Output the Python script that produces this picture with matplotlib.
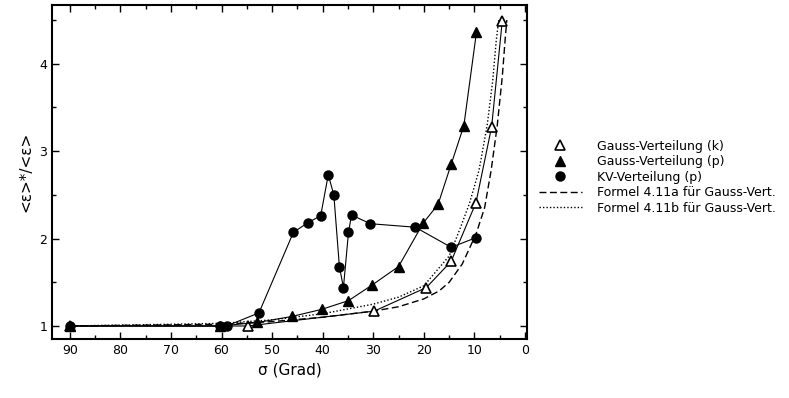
import matplotlib
matplotlib.use("Agg")
import matplotlib.pyplot as plt
from matplotlib.lines import Line2D
from matplotlib.ticker import MultipleLocator

# Gauss-Verteilung (k), offene Dreiecke
sig_gk = [90, 54.8, 29.8, 19.5, 14.6, 9.7, 6.6, 4.5]
eps_gk = [1.0, 1.0, 1.17, 1.44, 1.74, 2.41, 3.28, 4.49]

# Gauss-Verteilung (p), gefuellte Dreiecke
sig_gp = [90, 60.4, 52.9, 46.0, 40.2, 34.9, 30.2, 25.0, 20.1, 17.2, 14.6, 12.1, 9.6]
eps_gp = [1.0, 1.0, 1.04, 1.11, 1.19, 1.29, 1.47, 1.68, 2.18, 2.39, 2.85, 3.29, 4.36]

# KV-Verteilung (p), Kreise
sig_kv = [90, 60.4, 59.0, 52.6, 45.8, 43.0, 40.4, 38.9, 37.8, 36.7, 35.9,
          34.9, 34.3, 30.6, 21.7, 14.6, 9.7]
eps_kv = [1.0, 1.0, 1.0, 1.15, 2.07, 2.18, 2.26, 2.73, 2.50, 1.68, 1.44,
          2.07, 2.27, 2.17, 2.13, 1.90, 2.01]

# Formel 4.11a (gestrichelt)
sig_fa = [90, 60, 50, 40, 30, 25, 20, 17, 15, 12.4, 9.7, 8, 6.7, 5.5, 4.5, 3.9, 3.6]
eps_fa = [1.0, 1.02, 1.05, 1.10, 1.17, 1.22, 1.31, 1.40, 1.50, 1.71, 2.05,
          2.35, 2.78, 3.29, 3.85, 4.3, 4.5]

# Formel 4.11b (gepunktet)
sig_fb = [90, 60, 50, 40, 30, 25, 20, 15, 13, 11, 9.1, 7.5, 6.4, 5.7, 5.2]
eps_fb = [1.0, 1.03, 1.07, 1.14, 1.25, 1.33, 1.46, 1.80, 2.09, 2.40, 2.78,
          3.29, 3.8, 4.26, 4.5]

plt.rcParams['font.family'] = ['DejaVu Sans']
plt.rcParams['font.size'] = 9

fig = plt.figure(figsize=(7.89, 3.98), dpi=100)
ax = fig.add_axes([0.066, 0.148, 0.602, 0.839])

lw = 0.8
ms = 6.5
ax.plot(sig_fa, eps_fa, color='black', lw=1.0, ls=(0, (5, 2.5)))
ax.plot(sig_fb, eps_fb, color='black', lw=1.0, ls=(0, (1, 1.5)))
ax.plot(sig_gk, eps_gk, color='black', lw=lw, marker='^', ms=ms,
        mfc='white', mec='black', mew=1.2)
ax.plot(sig_gp, eps_gp, color='black', lw=lw, marker='^', ms=ms,
        mfc='black', mec='black')
ax.plot(sig_kv, eps_kv, color='black', lw=lw, marker='o', ms=ms,
        mfc='black', mec='black')

ax.set_xlim(93.5, -0.4)
ax.set_ylim(0.85, 4.67)
ax.xaxis.set_major_locator(MultipleLocator(10))
ax.xaxis.set_minor_locator(MultipleLocator(5))
ax.yaxis.set_major_locator(MultipleLocator(1))
ax.yaxis.set_minor_locator(MultipleLocator(0.5))
ax.tick_params(which='both', direction='in', top=True, right=True)
ax.tick_params(which='major', length=5, width=1)
ax.tick_params(which='minor', length=3, width=1)
for s in ax.spines.values():
    s.set_linewidth(1.5)

ax.set_xlabel('σ (Grad)', fontsize=11)
ax.set_ylabel('<ε>*/<ε>', fontsize=11)

handles = [
    Line2D([], [], ls='none', marker='^', ms=ms, mfc='white', mec='black', mew=1.2),
    Line2D([], [], ls='none', marker='^', ms=ms, mfc='black', mec='black'),
    Line2D([], [], ls='none', marker='o', ms=ms, mfc='black', mec='black'),
    Line2D([], [], color='black', lw=1.0, ls=(0, (5, 2.5))),
    Line2D([], [], color='black', lw=1.0, ls=(0, (1, 1.5))),
]
labels = ['Gauss-Verteilung (k)', 'Gauss-Verteilung (p)', 'KV-Verteilung (p)',
          'Formel 4.11a für Gauss-Vert.', 'Formel 4.11b für Gauss-Vert.']
fig.legend(handles, labels, loc='upper left', bbox_to_anchor=(0.677, 0.662),
           frameon=False, handlelength=3.4, labelspacing=0.2, handletextpad=1.2,
           borderaxespad=0, fontsize=9)

fig.savefig('out.png', dpi=100)
